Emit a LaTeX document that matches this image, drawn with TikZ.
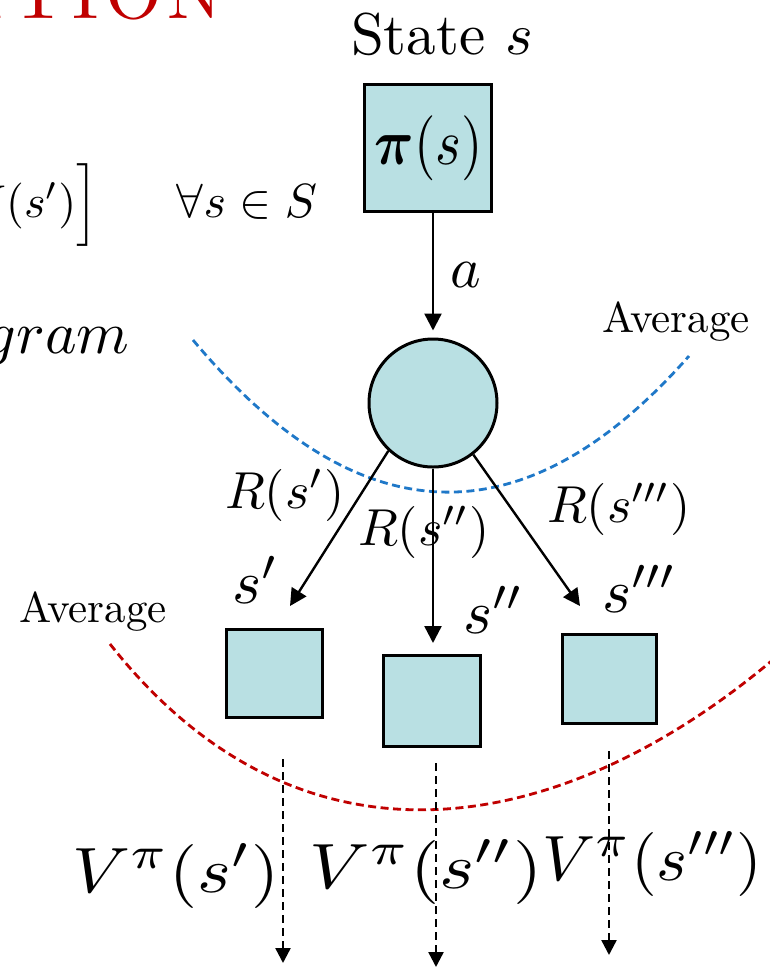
\documentclass[tikz,border=0pt]{standalone}
\usepackage{amsmath,amssymb}
\usepackage{graphicx}
\usetikzlibrary{arrows.meta}
\definecolor{boxfill}{HTML}{B9E0E3}
\definecolor{curveblue}{HTML}{1F78C8}
\definecolor{curvered}{HTML}{C00000}
\definecolor{titlered}{HTML}{C00000}
\begin{document}
\begin{tikzpicture}[x=1pt,y=-1pt,
  stbox/.style={draw, line width=3pt, fill=boxfill, inner sep=0pt},
  chance/.style={circle, draw, line width=3pt, fill=boxfill, minimum size=128pt, inner sep=0pt},
  arr/.style={line width=2.4pt, -{Triangle[length=17pt,width=17pt]}},
  darr/.style={line width=2.4pt, dash pattern=on 8pt off 5pt, -{Triangle[length=15pt,width=15pt]}},
  avgcurve/.style={line width=2.8pt, dash pattern=on 8pt off 4.5pt},
  lbl/.style={inner sep=0pt, anchor=base west},
  lble/.style={inner sep=0pt, anchor=base east}]
\useasboundingbox (0,0) rectangle (770,967);
\clip (0,0) rectangle (770,967);

% cropped slide fragments
\node[lble, scale=7.3, text=titlered] (title) at (224,18) {A\kern1.2pt T\kern1pt I\kern1pt O\kern0.7pt N};
\node[lble, scale=4.6] (eqfrag) at (99,217) {$V(s')\Big]$};
\node[lbl, scale=4.8] (forall) at (176,217) {$\forall s\in S$};
\node[lble, scale=6.0] (diag) at (131,353) {$diagram$};

% curves
\draw[avgcurve, curveblue] (193,340) .. controls (358,537) and (524,543) .. (689,356);
\draw[avgcurve, curvered] (110,644) .. controls (300,885) and (560,840) .. (775,658);

% top
\node[lbl, scale=5.9] (state) at (350,54) {State $s$};
\node[stbox, minimum width=127pt, minimum height=127pt] (pi) at (427.5,147.5) {};
\node[inner sep=0pt, anchor=base, xscale=5.5, yscale=6.5] (pitext) at (428.5,164) {$\boldsymbol{\pi}(s)$};
\node[chance] (c) at (433,403) {};
\node[lbl, scale=5.8] (alab) at (449,287) {$a$};
\node[lbl, scale=4.3] (avg1) at (602,332) {Average};
\node[lbl, scale=4.3] (avg2) at (19,622) {Average};

% successor states
\node[stbox, minimum width=96pt, minimum height=88pt] (b1) at (274.5,673.5) {};
\node[stbox, minimum width=97pt, minimum height=91pt] (b2) at (432,701) {};
\node[stbox, minimum width=94pt, minimum height=89pt] (b3) at (609.5,679) {};

\node[lbl, scale=5.2] (r1) at (224,508) {$R(s')$};
\node[lbl, scale=5.2] (r2) at (357,545) {$R(s'')$};
\node[lbl, scale=5.2] (r3) at (546,522) {$R(s''')$};

\node[lbl, scale=6.2] (s1) at (231,603) {$s'$};
\node[lbl, scale=6.2] (s2) at (462,633) {$s''$};
\node[lbl, scale=6.2] (s3) at (601,612) {$s'''$};

\node[lbl, xscale=7.2, yscale=6.4] (v1) at (71,892) {$V^{\pi}(s')$};
\node[lbl, xscale=7.5, yscale=6.4] (v2) at (308,888) {$V^{\pi}(s'')$};
\node[lbl, xscale=6.6, yscale=6.4] (v3) at (541,880) {$V^{\pi}(s''')$};

% connectors
\coordinate (t1) at (290,606);
\coordinate (t3) at (580,606);
\draw[arr, shorten >=7pt] (pi.south -| c.center) -- (c.north);
\draw[arr] (c.227) -- (t1);
\draw[arr, shorten >=11pt] (c.south) -- (c.south |- b2.north);
\draw[arr] (c.-52) -- (t3);

\coordinate (d1a) at (283,759); \coordinate (d1b) at (283,963);
\coordinate (d2a) at (436,763); \coordinate (d2b) at (436,967);
\coordinate (d3a) at (609,751); \coordinate (d3b) at (609,955);
\draw[darr] (d1a) -- (d1b);
\draw[darr] (d2a) -- (d2b);
\draw[darr] (d3a) -- (d3b);
\end{tikzpicture}
\end{document}
